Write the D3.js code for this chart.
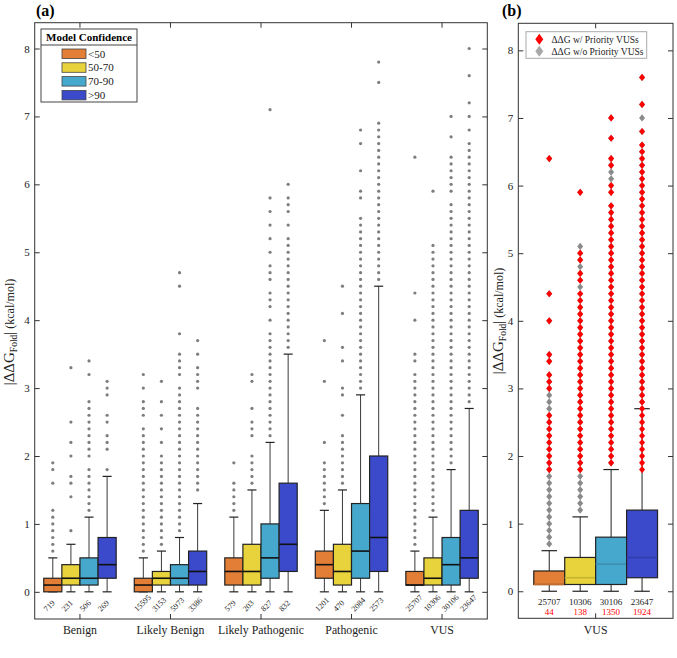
<!DOCTYPE html>
<html><head><meta charset="utf-8">
<script src="https://cdn.jsdelivr.net/npm/d3@7"></script>
<style>
html,body{margin:0;padding:0;background:#fff;}
svg, svg text{font-family:'Liberation Serif','DejaVu Serif',serif;}
</style></head>
<body><svg id="chart" width="677" height="658" font-family="Liberation Serif, DejaVu Serif, serif"></svg>
<script>
// ---------- data ----------
const groups = ["Benign","Likely Benign","Likely Pathogenic","Pathogenic","VUS"];
const confidence = ["<50","50-70","70-90",">90"];
const colors = ["#E37E37","#E8D33C","#47A8CE","#3A4ACA"];
const counts = [[719,231,506,269],[15595,3153,5973,3386],[579,203,827,832],[1201,470,2084,2573],[25707,10306,30106,23647]];
const q1      = [[0,0.1,0.1,0.2],[0,0.1,0.1,0.1],[0.1,0.1,0.2,0.3],[0.2,0.1,0.2,0.3],[0.1,0.1,0.1,0.2]];
const medians = [[0.1,0.2,0.2,0.4],[0.1,0.2,0.2,0.3],[0.3,0.3,0.5,0.7],[0.4,0.3,0.6,0.8],[0.1,0.2,0.4,0.5]];
const q3      = [[0.2,0.4,0.5,0.8],[0.2,0.3,0.4,0.6],[0.5,0.7,1.0,1.6],[0.6,0.7,1.3,2.0],[0.3,0.5,0.8,1.2]];
const whiskerLow  = [[0,0,0,0],[0,0,0,0],[0,0,0,0],[0,0,0,0],[0,0,0,0]];
const whiskerHigh = [[0.5,0.7,1.1,1.7],[0.5,0.6,0.8,1.3],[1.1,1.5,2.2,3.5],[1.2,1.5,2.9,4.5],[0.6,1.1,1.8,2.7]];

const outBenign = [
 [0.6,0.7,0.8,0.9,1.0,1.1,1.2,1.6,1.8,1.9],
 [0.9,1.4,1.6,1.7,2.0,2.2,2.5,3.3],
 [1.2,1.3,1.4,1.5,1.6,1.7,1.8,2.0,2.1,2.2,2.3,2.4,2.5,2.6,2.7,2.8,3.2,3.4],
 [1.8,2.1,2.2,2.3,2.5,2.6,2.9,3.0,3.1]];
const outLikelyBenign = [
 [0.6,0.7,0.8,0.9,1.0,1.1,1.2,1.3,1.4,1.5,1.6,1.7,1.8,1.9,2.0,2.1,2.2,2.3,2.4,2.6,2.7,2.8,3.0,3.2],
 [0.7,0.8,0.9,1.0,1.1,1.2,1.3,1.4,1.5,1.6,1.7,1.8,1.9,2.0,2.2,2.4,2.6,2.8,3.1],
 [0.9,1.0,1.1,1.2,1.3,1.4,1.5,1.6,1.7,1.8,1.9,2.0,2.1,2.2,2.3,2.4,2.5,2.6,2.7,2.8,2.9,3.0,3.2,3.3,3.4,3.5,3.8,4.5,4.7],
 [1.5,1.6,1.7,1.8,1.9,2.0,2.1,2.2,2.3,2.4,2.5,2.6,2.7,3.0,3.1,3.2,3.3,3.5,3.7]];
const outLikelyPathogenic = [
 [1.2,1.3,1.4,1.5,1.6,1.9],
 [1.6,1.7,1.8,1.9,2.0,2.3,2.4,2.5,2.7,3.1,3.2],
 [2.3,2.4,2.5,2.6,2.7,2.8,2.9,3.0,3.1,3.2,3.3,3.4,3.5,3.6,3.7,3.8,4.0,4.2,4.3,4.4,4.6,4.7,4.8,5.0,5.2,5.4,5.6,5.8,7.1],
 [3.6,3.7,3.8,3.9,4.0,4.1,4.2,4.3,4.4,4.5,4.6,4.7,4.8,4.9,5.0,5.1,5.2,5.4,5.6,5.7,5.8,6.0]];
const outPathogenic = [
 [1.3,1.4,1.5,1.6,1.7,1.8,1.9,2.2,3.1,3.7],
 [1.6,1.7,1.8,1.9,2.0,2.1,2.2,2.3,2.6,2.9,3.0,3.4,3.6,4.1,4.5],
 [3.0,3.1,3.2,3.3,3.4,3.5,3.6,3.7,3.8,3.9,4.0,4.1,4.2,4.3,4.4,4.5,4.6,4.7,4.8,4.9,5.0,5.1,5.2,5.3,5.4,5.5,5.8,5.9,6.2,6.6,6.8],
 [4.6,4.7,4.8,4.9,5.0,5.1,5.2,5.3,5.4,5.5,5.6,5.7,5.8,5.9,6.0,6.1,6.2,6.3,6.4,6.5,6.6,6.7,6.8,6.9,7.5,7.8]];
const outVUS = [
 [0.7,0.8,0.9,1.0,1.1,1.2,1.3,1.4,1.5,1.6,1.7,1.8,1.9,2.0,2.1,2.2,2.3,2.4,2.5,2.6,2.7,2.8,2.9,3.0,3.1,3.2,3.4,3.5,4.0,4.4,6.4],
 [1.2,1.3,1.4,1.5,1.6,1.7,1.8,1.9,2.0,2.1,2.2,2.3,2.4,2.5,2.6,2.7,2.8,2.9,3.0,3.1,3.2,3.3,3.4,3.5,3.6,3.7,3.8,3.9,4.0,4.1,4.2,4.3,4.4,4.5,4.6,4.7,4.8,4.9,5.0,5.1,5.9],
 [1.9,2.0,2.1,2.2,2.3,2.4,2.5,2.6,2.7,2.8,2.9,3.0,3.1,3.2,3.3,3.4,3.5,3.6,3.7,3.8,3.9,4.0,4.1,4.2,4.3,4.4,4.5,4.6,4.7,4.8,4.9,5.0,5.1,5.2,5.3,5.4,5.5,5.6,5.7,5.9,6.0,6.1,6.2,6.3,6.4,6.7,7.0],
 [2.8,2.9,3.0,3.1,3.2,3.3,3.4,3.5,3.6,3.7,3.8,3.9,4.0,4.1,4.2,4.3,4.4,4.5,4.6,4.7,4.8,4.9,5.0,5.1,5.2,5.3,5.4,5.5,5.6,5.7,5.8,5.9,6.0,6.1,6.2,6.3,6.4,6.5,6.6,6.8,7.0,7.2,7.6,8.0]];

// panel (b): priority VUSs (red)
const priorityVUS = [
 [1.8,1.9,2.0,2.1,2.2,2.3,2.4,2.5,2.6,3.0,3.1,3.2,3.4,3.5,4.0,4.4,6.4],
 [1.8,1.9,2.0,2.1,2.2,2.3,2.4,2.5,2.6,2.7,2.8,2.9,3.0,3.1,3.2,3.3,3.4,3.5,3.6,3.7,3.8,3.9,4.0,4.1,4.2,4.3,4.4,4.6,4.7,4.9,5.0,5.9],
 [1.9,2.0,2.1,2.2,2.3,2.4,2.5,2.6,2.7,2.8,2.9,3.0,3.1,3.2,3.3,3.4,3.5,3.6,3.7,3.8,3.9,4.0,4.1,4.2,4.3,4.4,4.5,4.6,4.7,4.8,4.9,5.0,5.1,5.2,5.3,5.4,5.5,5.6,5.7,5.9,6.0,6.3,6.4,6.7,7.0],
 [1.8,1.9,2.0,2.1,2.2,2.3,2.4,2.5,2.6,2.7,2.8,2.9,3.0,3.1,3.2,3.3,3.4,3.5,3.6,3.7,3.8,3.9,4.0,4.1,4.2,4.3,4.4,4.5,4.6,4.7,4.8,4.9,5.0,5.1,5.2,5.3,5.4,5.5,5.6,5.7,5.8,5.9,6.0,6.1,6.2,6.3,6.4,6.5,6.6,6.8,7.2,7.6]];
const priorityCounts = [44,138,1350,1924];
const yTicks = [0,1,2,3,4,5,6,7,8];

// ---------- build ----------
const outliers = [outBenign,outLikelyBenign,outLikelyPathogenic,outPathogenic,outVUS];
const svg = d3.select("#chart");
const FONT = "Liberation Serif, DejaVu Serif, serif";

function txt(sel){ return sel.attr("font-family",FONT).style("font-family",FONT); }

function frameAxes(g, x, y, x0, x1, y0, y1, labelFont){
  g.append("rect").attr("x",x0).attr("y",y1).attr("width",x1-x0).attr("height",y0-y1)
    .attr("fill","none").attr("stroke","#333").attr("stroke-width",1);
  const left = g.append("g").attr("transform",`translate(${x0},0)`)
    .call(d3.axisLeft(y).tickValues(yTicks).tickSize(-5).tickSizeOuter(0).tickPadding(5).tickFormat(d3.format("d")));
  const right = g.append("g").attr("transform",`translate(${x1},0)`)
    .call(d3.axisRight(y).tickValues(yTicks).tickSize(-5).tickSizeOuter(0).tickFormat(""));
  const top = g.append("g").attr("transform",`translate(0,${y1})`)
    .call(d3.axisTop(x).tickSize(-5).tickSizeOuter(0).tickFormat(""));
  const bottom = g.append("g").attr("transform",`translate(0,${y0})`)
    .call(d3.axisBottom(x).tickSize(-5).tickSizeOuter(0).tickPadding(7));
  [left,right,top,bottom].forEach(a=>{
    a.attr("font-family",FONT);
    a.select(".domain").remove();
    a.selectAll(".tick line").attr("stroke","#333");
    txt(a.selectAll("text")).attr("fill","#222");
  });
  left.selectAll("text").style("font-size","11px");
  bottom.selectAll("text").style("font-size",labelFont);
}

function yLabel(g, x, y, big, sub, small){
  const t = txt(g.append("text")).attr("transform",`translate(${x},${y}) rotate(-90)`)
    .attr("text-anchor","middle").attr("fill","#222");
  t.append("tspan").style("font-size",big).text("|ΔΔG");
  t.append("tspan").style("font-size",sub).attr("dy","0.35em").text("Fold");
  t.append("tspan").style("font-size",big).attr("dy","-0.25em").text("|");
  t.append("tspan").style("font-size",small).text(" (kcal/mol)");
}

function drawBox(g, cx, w, y, lo, a, m, b, hi, fill, medColor, whiskColor){
  const cap = w/2;
  g.append("line").attr("x1",cx).attr("x2",cx).attr("y1",y(b)).attr("y2",y(hi)).attr("stroke",whiskColor).attr("stroke-width",1);
  g.append("line").attr("x1",cx).attr("x2",cx).attr("y1",y(a)).attr("y2",y(lo)).attr("stroke",whiskColor).attr("stroke-width",1);
  g.append("line").attr("x1",cx-cap/2).attr("x2",cx+cap/2).attr("y1",y(hi)).attr("y2",y(hi)).attr("stroke","#222").attr("stroke-width",1.2);
  g.append("line").attr("x1",cx-cap/2).attr("x2",cx+cap/2).attr("y1",y(lo)).attr("y2",y(lo)).attr("stroke","#222").attr("stroke-width",1.2);
  g.append("rect").attr("x",cx-w/2).attr("y",y(b)).attr("width",w).attr("height",Math.max(0,y(a)-y(b)))
    .attr("fill",fill).attr("stroke","#222").attr("stroke-width",1.2);
  g.append("line").attr("x1",cx-w/2).attr("x2",cx+w/2).attr("y1",y(m)).attr("y2",y(m)).attr("stroke",medColor).attr("stroke-width",1.6);
}

// ---------- Panel (a) ----------
const gA = svg.append("g");
const xA = d3.scaleBand().domain(groups).range([34.7,487.3]);
const bw = xA.bandwidth();
const xSub = d3.scaleBand().domain(confidence).range([0.1*bw,0.9*bw]);
const yA = d3.scaleLinear().domain([-0.4,8.38]).range([619,22.7]);
const sw = xSub.bandwidth();

groups.forEach((gname,gi)=>{
  confidence.forEach((c,ci)=>{
    const cx = xA(gname)+xSub(c)+sw/2;
    gA.append("g").selectAll("circle").data(outliers[gi][ci]).join("circle")
      .attr("cx",cx).attr("cy",d=>yA(d)).attr("r",1.6).attr("fill","#7d7d7d");
    drawBox(gA, cx, sw, yA, whiskerLow[gi][ci], q1[gi][ci], medians[gi][ci], q3[gi][ci], whiskerHigh[gi][ci], colors[ci], "#111", "#3a3a3a");
    txt(gA.append("text")).attr("transform",`translate(${cx-6},612) rotate(-45)`)
      .attr("text-anchor","start").style("font-size","8px").attr("fill","#222")
      .text(counts[gi][ci]);
  });
});
frameAxes(gA, xA, yA, 34.7, 487.3, 619, 22.7, "11.8px");
yLabel(gA, 14, 332, "15px", "9.5px", "12px");
txt(gA.append("text")).attr("x",36).attr("y",16).style("font-weight","bold").style("font-size","16px").text("(a)");

// legend (a)
const legA = gA.append("g");
legA.append("rect").attr("x",41).attr("y",29).attr("width",96).attr("height",73).attr("fill","#fff").attr("stroke","#444").attr("stroke-width",1);
legA.append("line").attr("x1",41).attr("x2",137).attr("y1",45).attr("y2",45).attr("stroke","#444");
txt(legA.append("text")).attr("x",89).attr("y",41).attr("text-anchor","middle").style("font-weight","bold").style("font-size","11px").text("Model Confidence");
confidence.forEach((c,i)=>{
  const yy = 49 + i*13.8;
  legA.append("rect").attr("x",62).attr("y",yy).attr("width",24).attr("height",9.5).attr("fill",colors[i]).attr("stroke","#444").attr("stroke-width",0.8);
  txt(legA.append("text")).attr("x",88).attr("y",yy+8.5).style("font-size","11px").attr("fill","#222").text(c);
});

// ---------- Panel (b) ----------
const gB = svg.append("g");
const xB = d3.scaleBand().domain(["VUS"]).range([518.3,673]);
const bwB = xB.bandwidth();
const xSubB = d3.scaleBand().domain(confidence).range([0.1*bwB,0.9*bwB]);
const swB = xSubB.bandwidth();
const yB = d3.scaleLinear().domain([-0.4,8.4]).range([618.3,23.3]);
const diamond = (cx,cy,hw,hh)=>`M${cx},${cy-hh}L${cx+hw},${cy}L${cx},${cy+hh}L${cx-hw},${cy}Z`;
const vi = groups.indexOf("VUS");

confidence.forEach((c,ci)=>{
  const cx = xB("VUS")+xSubB(c)+swB/2;
  drawBox(gB, cx, swB, yB, whiskerLow[vi][ci], q1[vi][ci], medians[vi][ci], q3[vi][ci], whiskerHigh[vi][ci], colors[ci], d3.color(colors[ci]).darker(0.45), "#222");
  gB.append("g").selectAll("path").data(outVUS[ci]).join("path")
    .attr("d",d=>diamond(cx,yB(d),3,3.6)).attr("fill","#8a8a8a");
  gB.append("g").selectAll("path").data(priorityVUS[ci]).join("path")
    .attr("d",d=>diamond(cx,yB(d),3,3.6)).attr("fill","#ff0000");
  txt(gB.append("text")).attr("x",cx).attr("y",605).attr("text-anchor","middle").style("font-size","9px").attr("fill","#222").text(counts[vi][ci]);
  txt(gB.append("text")).attr("x",cx).attr("y",615).attr("text-anchor","middle").style("font-size","9px").attr("fill","#ff0000").text(priorityCounts[ci]);
});
frameAxes(gB, xB, yB, 518.3, 673, 618.3, 23.3, "11.8px");
yLabel(gB, 503, 321, "15px", "9.5px", "12px");
txt(gB.append("text")).attr("x",502).attr("y",16).style("font-weight","bold").style("font-size","16px").text("(b)");

// legend (b)
const legB = gB.append("g");
legB.append("rect").attr("x",526).attr("y",31.7).attr("width",120.7).attr("height",26.6).attr("fill","#fff").attr("stroke","#aaa").attr("stroke-width",1);
const legItems = [["ΔΔG w/ Priority VUSs","#ff0000"],["ΔΔG w/o Priority VUSs","#a8a8a8"]];
legItems.forEach((it,i)=>{
  const yy = 39.3 + i*12;
  legB.append("path").attr("d",diamond(539.3,yy,4,5.5)).attr("fill",it[1]);
  txt(legB.append("text")).attr("x",551.5).attr("y",yy+3.5).style("font-size","9.5px").attr("fill","#222").text(it[0]);
});
</script></body></html>
